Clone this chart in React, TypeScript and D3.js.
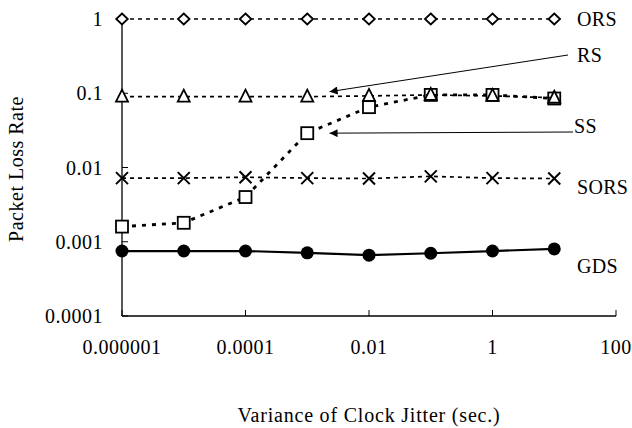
import React from "react";
import * as d3 from "d3";

// jitter variance (sec.)
const jitter = [1e-6, 1e-5, 1e-4, 1e-3, 1e-2, 1e-1, 1, 10];
const ORS = [1, 1, 1, 1, 1, 1, 1, 1];
const RS = [0.09, 0.09, 0.09, 0.09, 0.092, 0.095, 0.092, 0.087];
const SS = [0.0016, 0.0018, 0.004, 0.029, 0.065, 0.095, 0.095, 0.085];
const SORS = [0.0072, 0.0072, 0.0074, 0.0072, 0.0071, 0.0076, 0.0072, 0.0071];
const GDS = [0.00075, 0.00075, 0.00075, 0.00071, 0.00066, 0.0007, 0.00075, 0.0008];

const xTicks = [1e-6, 1e-4, 1e-2, 1, 100];
const xTickLabels = ["0.000001", "0.0001", "0.01", "1", "100"];
const yTicks = [1e-4, 1e-3, 1e-2, 1e-1, 1];
const yTickLabels = ["0.0001", "0.001", "0.01", "0.1", "1"];

const W = 632;
const H = 428;
const margin = { top: 19, right: 16, bottom: 112, left: 122 };
const font = "'Liberation Serif', 'Times New Roman', serif";

const Marker = ({ kind, cx, cy }) => {
  const s = 6;
  if (kind === "diamond")
    return (
      <path
        d={`M${cx},${cy - 5.5}L${cx + 5.8},${cy}L${cx},${cy + 5.5}L${cx - 5.8},${cy}Z`}
        fill="#fff"
        stroke="#000"
        strokeWidth={1.8}
      />
    );
  if (kind === "triangle")
    return (
      <path
        d={`M${cx},${cy - s - 1}L${cx + s},${cy + s - 1}L${cx - s},${cy + s - 1}Z`}
        fill="#fff"
        stroke="#000"
        strokeWidth={1.8}
      />
    );
  if (kind === "square")
    return (
      <rect x={cx - s} y={cy - s} width={2 * s} height={2 * s} fill="#fff" stroke="#000" strokeWidth={1.8} />
    );
  if (kind === "cross")
    return (
      <path
        d={`M${cx - s},${cy - s}L${cx + s},${cy + s}M${cx - s},${cy + s}L${cx + s},${cy - s}`}
        stroke="#000"
        strokeWidth={2}
      />
    );
  return <circle cx={cx} cy={cy} r={6.5} fill="#000" />;
};

const series = [
  { name: "ORS", values: ORS, marker: "diamond", dash: "4,4", width: 1.7 },
  { name: "SORS", values: SORS, marker: "cross", dash: "4,4", width: 1.7 },
  { name: "SS", values: SS, marker: "square", dash: "4,6", width: 2.8 },
  { name: "RS", values: RS, marker: "triangle", dash: "4,4", width: 1.7 },
  { name: "GDS", values: GDS, marker: "circle", dash: null, width: 2.2 },
];

// label positions (pixels) and arrow tips (data coords)
const labels = [
  { text: "ORS", x: 577, y: 26 },
  { text: "RS", x: 577, y: 62 },
  { text: "SS", x: 574, y: 133 },
  { text: "SORS", x: 577, y: 194 },
  { text: "GDS", x: 577, y: 273 },
];
const arrows = [
  { from: [568, 55], tip: [0.0023, 0.105] },
  { from: [573, 132], tip: [0.0023, 0.029] },
];

export default function App() {
  const x = d3.scaleLog().domain([1e-6, 100]).range([margin.left, W - margin.right]);
  const y = d3.scaleLog().domain([1e-4, 1]).range([H - margin.bottom, margin.top]);
  const line = d3
    .line<number>()
    .x((_, i) => x(jitter[i]))
    .y((d) => y(d));

  const x0 = margin.left;
  const y0 = H - margin.bottom;

  return (
    <svg width={W} height={H} style={{ position: "absolute", left: 0, top: 0, background: "#fff" }}>
      <defs>
        <marker id="ah" viewBox="0 0 10 10" refX={10} refY={5} markerWidth={12} markerHeight={8} markerUnits="userSpaceOnUse" orient="auto">
          <path d="M0,0L10,5L0,10Z" fill="#000" />
        </marker>
      </defs>
      <g fontFamily={font} fontSize={20} fill="#000">
        {/* axes */}
        <line x1={x0} x2={x0} y1={y0} y2={margin.top} stroke="#000" strokeWidth={1.3} />
        <line x1={x0} x2={W - margin.right} y1={y0} y2={y0} stroke="#000" strokeWidth={1.3} />
        {yTicks.map((t, i) => (
          <g key={"y" + i}>
            <line x1={x0} x2={x0 + 6} y1={y(t)} y2={y(t)} stroke="#000" strokeWidth={1} />
            <text x={x0 - 19} y={y(t)} dy="0.35em" textAnchor="end" letterSpacing={0.5}>
              {yTickLabels[i]}
            </text>
          </g>
        ))}
        {xTicks.map((t, i) => (
          <g key={"x" + i}>
            <line x1={x(t)} x2={x(t)} y1={y0} y2={y0 - 6} stroke="#000" strokeWidth={1} />
            <text x={x(t)} y={354} textAnchor="middle" letterSpacing={0.5}>
              {xTickLabels[i]}
            </text>
          </g>
        ))}
        <text x={369} y={422} textAnchor="middle" letterSpacing={0.8}>
          Variance of Clock Jitter (sec.)
        </text>
        <text transform={`translate(23,169) rotate(-90)`} textAnchor="middle" letterSpacing={0.5}>
          Packet Loss Rate
        </text>

        {/* series */}
        {series.map((s) => (
          <g key={s.name}>
            <path
              d={line(s.values) || ""}
              fill="none"
              stroke="#000"
              strokeWidth={s.width}
              strokeDasharray={s.dash || undefined}
            />
            {s.values.map((v, i) => (
              <Marker key={i} kind={s.marker} cx={x(jitter[i])} cy={y(v)} />
            ))}
          </g>
        ))}

        {/* annotations */}
        {arrows.map((a, i) => (
          <line
            key={"a" + i}
            x1={a.from[0]}
            y1={a.from[1]}
            x2={x(a.tip[0])}
            y2={y(a.tip[1])}
            stroke="#000"
            strokeWidth={1}
            markerEnd="url(#ah)"
          />
        ))}
        {labels.map((l) => (
          <text key={l.text} x={l.x} y={l.y} letterSpacing={0.3}>
            {l.text}
          </text>
        ))}
      </g>
    </svg>
  );
}
